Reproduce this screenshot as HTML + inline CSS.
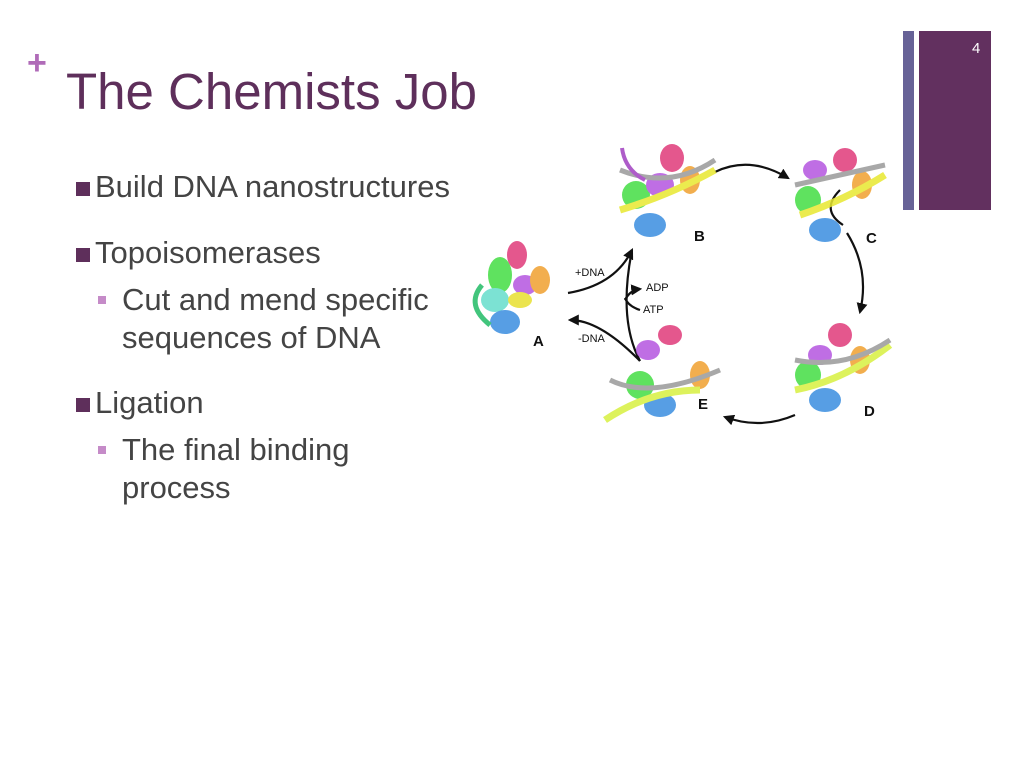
<!DOCTYPE html>
<html><head><style>
body{margin:0;width:1024px;height:768px;background:#fff;position:relative;overflow:hidden;font-family:"Liberation Sans",sans-serif;}
.t{position:absolute;color:#444;}
.b1{position:absolute;left:903px;top:31px;width:11px;height:179px;background:#676297;}
.b2{position:absolute;left:919px;top:31px;width:72px;height:179px;background:#62305f;}
.sq{display:inline-block;width:14px;height:14px;background:#5e2f5b;margin-right:5px;vertical-align:1px;}
.sq2{display:inline-block;width:8px;height:8px;background:#c58bc8;margin-right:16px;vertical-align:6px;}
.bt{font-size:31px;line-height:36px;}
</style></head><body>
<div class="b1"></div><div class="b2"></div>
<div class="t" style="left:972px;top:40px;color:#fff;font-size:15px;">4</div>
<div class="t" style="left:27px;top:44px;color:#b06bb8;font-size:34px;font-weight:bold;">+</div>
<div class="t" style="left:66px;top:62px;color:#5e2f5b;font-size:51px;">The Chemists Job</div>
<div class="t bt" style="left:76px;top:169px;"><span class="sq"></span>Build DNA nanostructures</div>
<div class="t bt" style="left:76px;top:235px;"><span class="sq"></span>Topoisomerases</div>
<div class="t bt" style="left:98px;top:281px;line-height:38px;"><span class="sq2"></span>Cut and mend specific<br><span style="margin-left:24px">sequences of DNA</span></div>
<div class="t bt" style="left:76px;top:385px;"><span class="sq"></span>Ligation</div>
<div class="t bt" style="left:98px;top:431px;line-height:38px;"><span class="sq2"></span>The final binding<br><span style="margin-left:24px">process</span></div>
<svg style="position:absolute;left:0;top:0" width="1024" height="768">
<defs><marker id="a" markerWidth="5" markerHeight="5" refX="4" refY="2.5" orient="auto"><path d="M0,0L5,2.5L0,5z" fill="#111"/></marker></defs>
<g font-family="Liberation Sans" font-weight="bold" font-size="15" fill="#111">
<text x="533" y="346">A</text><text x="694" y="241">B</text><text x="866" y="243">C</text><text x="864" y="416">D</text><text x="698" y="409">E</text></g>
<g font-family="Liberation Sans" font-size="11" fill="#111">
<text x="575" y="276">+DNA</text><text x="646" y="291">ADP</text><text x="643" y="313">ATP</text><text x="578" y="342">-DNA</text></g>
<g fill="none" stroke="#111" stroke-width="2.2">
<path d="M568,293 Q615,285 632,250" marker-end="url(#a)"/>
<path d="M640,361 Q618,320 632,250"/>
<path d="M640,361 Q600,320 570,320" marker-end="url(#a)"/>
<path d="M625,300 Q630,290 640,289" marker-end="url(#a)"/>
<path d="M640,310 Q628,306 625,298"/>
<path d="M715,172 Q750,155 788,178" marker-end="url(#a)"/>
<path d="M847,233 Q870,270 860,312" marker-end="url(#a)"/>
<path d="M795,415 Q760,430 725,417" marker-end="url(#a)"/>
<path d="M843,225 Q820,210 840,190" />
</g>
<g opacity="0.85">
<ellipse cx="500" cy="275" rx="12" ry="18" fill="#44dd44"/><ellipse cx="495" cy="300" rx="14" ry="12" fill="#66ddcc"/><ellipse cx="505" cy="322" rx="15" ry="12" fill="#3a8ee0"/><ellipse cx="525" cy="285" rx="12" ry="10" fill="#b455e0"/><ellipse cx="540" cy="280" rx="10" ry="14" fill="#f0a030"/><ellipse cx="520" cy="300" rx="12" ry="8" fill="#e8e030"/><ellipse cx="517" cy="255" rx="10" ry="14" fill="#e03a7a"/>
<path d="M482,285 Q465,305 490,325" stroke="#22bb66" stroke-width="5" fill="none"/>
<ellipse cx="636" cy="195" rx="14" ry="14" fill="#44dd44"/><ellipse cx="650" cy="225" rx="16" ry="12" fill="#3a8ee0"/><ellipse cx="660" cy="185" rx="14" ry="12" fill="#b455e0"/><ellipse cx="690" cy="180" rx="10" ry="14" fill="#f0a030"/><ellipse cx="672" cy="158" rx="12" ry="14" fill="#e03a7a"/>
<path d="M620,210 Q670,195 715,170" stroke="#e8e830" stroke-width="7" fill="none"/><path d="M620,170 Q670,190 715,160" stroke="#999" stroke-width="5" fill="none"/>
<path d="M645,180 Q625,170 622,148" stroke="#a040c0" stroke-width="4" fill="none"/>
<ellipse cx="808" cy="200" rx="13" ry="14" fill="#44dd44"/><ellipse cx="825" cy="230" rx="16" ry="12" fill="#3a8ee0"/><ellipse cx="815" cy="170" rx="12" ry="10" fill="#b455e0"/><ellipse cx="862" cy="185" rx="10" ry="14" fill="#f0a030"/><ellipse cx="845" cy="160" rx="12" ry="12" fill="#e03a7a"/>
<path d="M800,215 Q845,200 885,175" stroke="#e8e830" stroke-width="7" fill="none"/><path d="M795,185 Q840,175 885,165" stroke="#999" stroke-width="5" fill="none"/>
<ellipse cx="808" cy="375" rx="13" ry="14" fill="#44dd44"/><ellipse cx="825" cy="400" rx="16" ry="12" fill="#3a8ee0"/><ellipse cx="820" cy="355" rx="12" ry="10" fill="#b455e0"/><ellipse cx="860" cy="360" rx="10" ry="14" fill="#f0a030"/><ellipse cx="840" cy="335" rx="12" ry="12" fill="#e03a7a"/>
<path d="M795,390 Q845,380 890,345" stroke="#d8f040" stroke-width="7" fill="none"/><path d="M795,360 Q845,370 890,340" stroke="#999" stroke-width="5" fill="none"/>
<ellipse cx="640" cy="385" rx="14" ry="14" fill="#44dd44"/><ellipse cx="660" cy="405" rx="16" ry="12" fill="#3a8ee0"/><ellipse cx="648" cy="350" rx="12" ry="10" fill="#b455e0"/><ellipse cx="700" cy="375" rx="10" ry="14" fill="#f0a030"/><ellipse cx="670" cy="335" rx="12" ry="10" fill="#e03a7a"/>
<path d="M605,420 Q650,390 700,390" stroke="#d8f040" stroke-width="7" fill="none"/><path d="M610,380 Q650,400 720,370" stroke="#999" stroke-width="5" fill="none"/>
</g>
</svg>
</body></html>
